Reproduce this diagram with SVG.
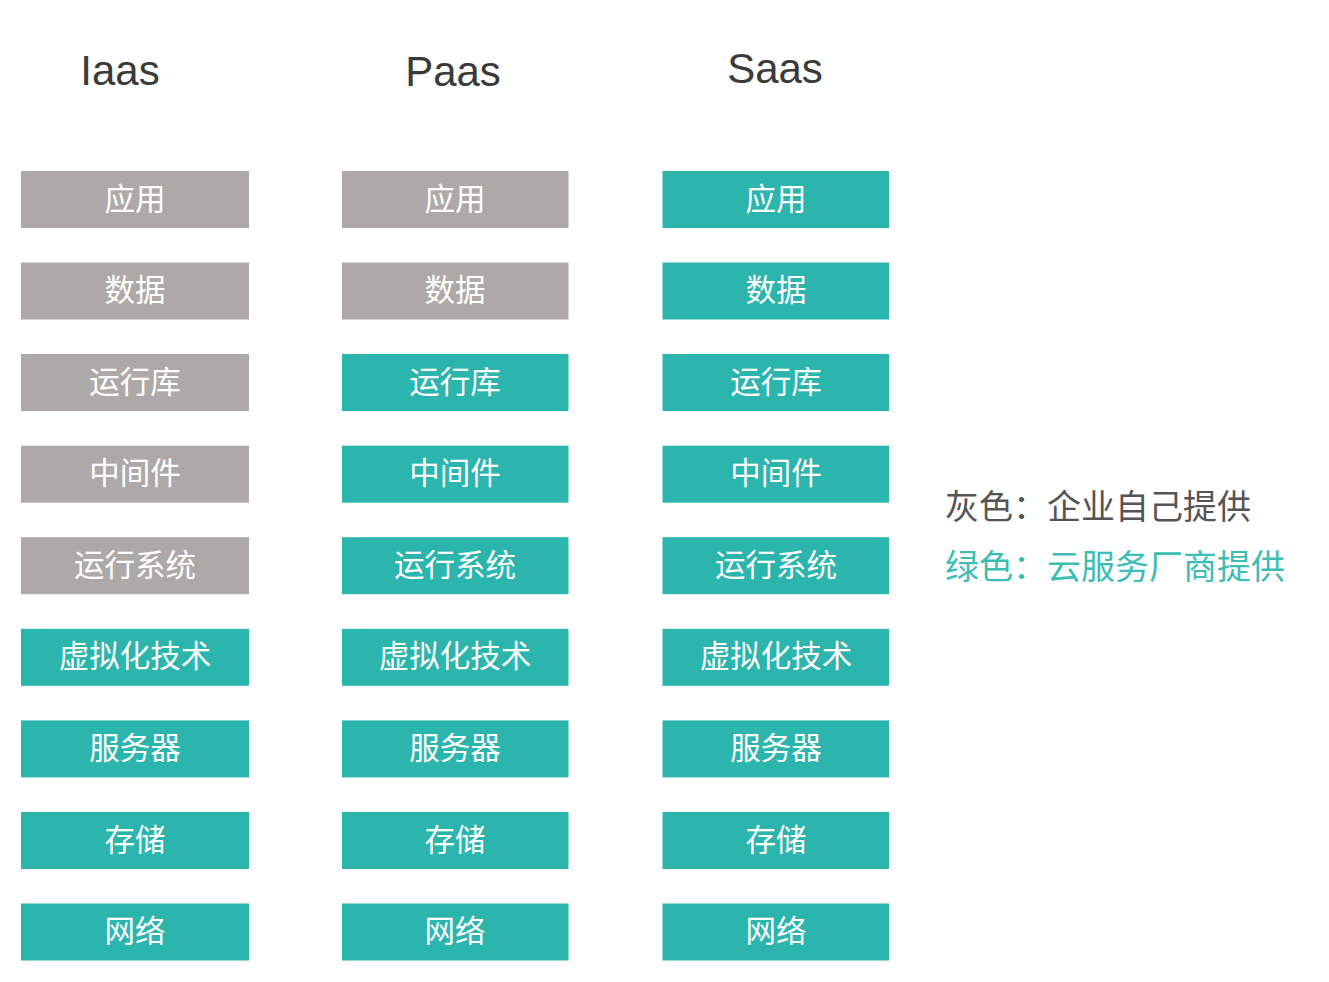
<svg xmlns="http://www.w3.org/2000/svg" width="1329" height="982" viewBox="0 0 1329 982">
<style>
.g{fill:#ADA9A8}
.t{fill:#2BB5AD}
.bt{font-family:"Noto Sans CJK SC",sans-serif;font-size:30.5px;fill:#FFFFFF;text-anchor:middle}
.h{font-family:"Liberation Sans",sans-serif;font-size:42px;fill:#3A3A3A;text-anchor:middle}
.lg{font-family:"Noto Sans CJK SC",sans-serif;font-size:34px}
</style>
<rect width="1329" height="982" fill="#FFFFFF"/>
<g id="titles">
<text class="h" x="120" y="85">Iaas</text>
<text class="h" x="453" y="86">Paas</text>
<text class="h" x="775" y="83">Saas</text>
</g>
<g id="col-iaas">
<g id="iaas-1"><rect class="g" x="21" y="171" width="228" height="57"/><text class="bt" x="135" y="209.5">应用</text></g>
<g id="iaas-2"><rect class="g" x="21" y="262.5" width="228" height="57"/><text class="bt" x="135" y="301">数据</text></g>
<g id="iaas-3"><rect class="g" x="21" y="354" width="228" height="57"/><text class="bt" x="135" y="392.5">运行库</text></g>
<g id="iaas-4"><rect class="g" x="21" y="445.7" width="228" height="57"/><text class="bt" x="135" y="484.2">中间件</text></g>
<g id="iaas-5"><rect class="g" x="21" y="537.2" width="228" height="57"/><text class="bt" x="135" y="575.7">运行系统</text></g>
<g id="iaas-6"><rect class="t" x="21" y="628.8" width="228" height="57"/><text class="bt" x="135" y="667.3">虚拟化技术</text></g>
<g id="iaas-7"><rect class="t" x="21" y="720.4" width="228" height="57"/><text class="bt" x="135" y="758.9">服务器</text></g>
<g id="iaas-8"><rect class="t" x="21" y="812" width="228" height="57"/><text class="bt" x="135" y="850.5">存储</text></g>
<g id="iaas-9"><rect class="t" x="21" y="903.5" width="228" height="57"/><text class="bt" x="135" y="942">网络</text></g>
</g>
<g id="col-paas">
<g id="paas-1"><rect class="g" x="342" y="171" width="226.5" height="57"/><text class="bt" x="455" y="209.5">应用</text></g>
<g id="paas-2"><rect class="g" x="342" y="262.5" width="226.5" height="57"/><text class="bt" x="455" y="301">数据</text></g>
<g id="paas-3"><rect class="t" x="342" y="354" width="226.5" height="57"/><text class="bt" x="455" y="392.5">运行库</text></g>
<g id="paas-4"><rect class="t" x="342" y="445.7" width="226.5" height="57"/><text class="bt" x="455" y="484.2">中间件</text></g>
<g id="paas-5"><rect class="t" x="342" y="537.2" width="226.5" height="57"/><text class="bt" x="455" y="575.7">运行系统</text></g>
<g id="paas-6"><rect class="t" x="342" y="628.8" width="226.5" height="57"/><text class="bt" x="455" y="667.3">虚拟化技术</text></g>
<g id="paas-7"><rect class="t" x="342" y="720.4" width="226.5" height="57"/><text class="bt" x="455" y="758.9">服务器</text></g>
<g id="paas-8"><rect class="t" x="342" y="812" width="226.5" height="57"/><text class="bt" x="455" y="850.5">存储</text></g>
<g id="paas-9"><rect class="t" x="342" y="903.5" width="226.5" height="57"/><text class="bt" x="455" y="942">网络</text></g>
</g>
<g id="col-saas">
<g id="saas-1"><rect class="t" x="662.5" y="171" width="226.5" height="57"/><text class="bt" x="776" y="209.5">应用</text></g>
<g id="saas-2"><rect class="t" x="662.5" y="262.5" width="226.5" height="57"/><text class="bt" x="776" y="301">数据</text></g>
<g id="saas-3"><rect class="t" x="662.5" y="354" width="226.5" height="57"/><text class="bt" x="776" y="392.5">运行库</text></g>
<g id="saas-4"><rect class="t" x="662.5" y="445.7" width="226.5" height="57"/><text class="bt" x="776" y="484.2">中间件</text></g>
<g id="saas-5"><rect class="t" x="662.5" y="537.2" width="226.5" height="57"/><text class="bt" x="776" y="575.7">运行系统</text></g>
<g id="saas-6"><rect class="t" x="662.5" y="628.8" width="226.5" height="57"/><text class="bt" x="776" y="667.3">虚拟化技术</text></g>
<g id="saas-7"><rect class="t" x="662.5" y="720.4" width="226.5" height="57"/><text class="bt" x="776" y="758.9">服务器</text></g>
<g id="saas-8"><rect class="t" x="662.5" y="812" width="226.5" height="57"/><text class="bt" x="776" y="850.5">存储</text></g>
<g id="saas-9"><rect class="t" x="662.5" y="903.5" width="226.5" height="57"/><text class="bt" x="776" y="942">网络</text></g>
</g>
<g id="legend">
<text class="lg" x="945" y="519" fill="#555555">灰色：企业自己提供</text>
<text class="lg" x="945" y="579" fill="#3DBDB4">绿色：云服务厂商提供</text>
</g>
<g id="connectors"></g>
</svg>
